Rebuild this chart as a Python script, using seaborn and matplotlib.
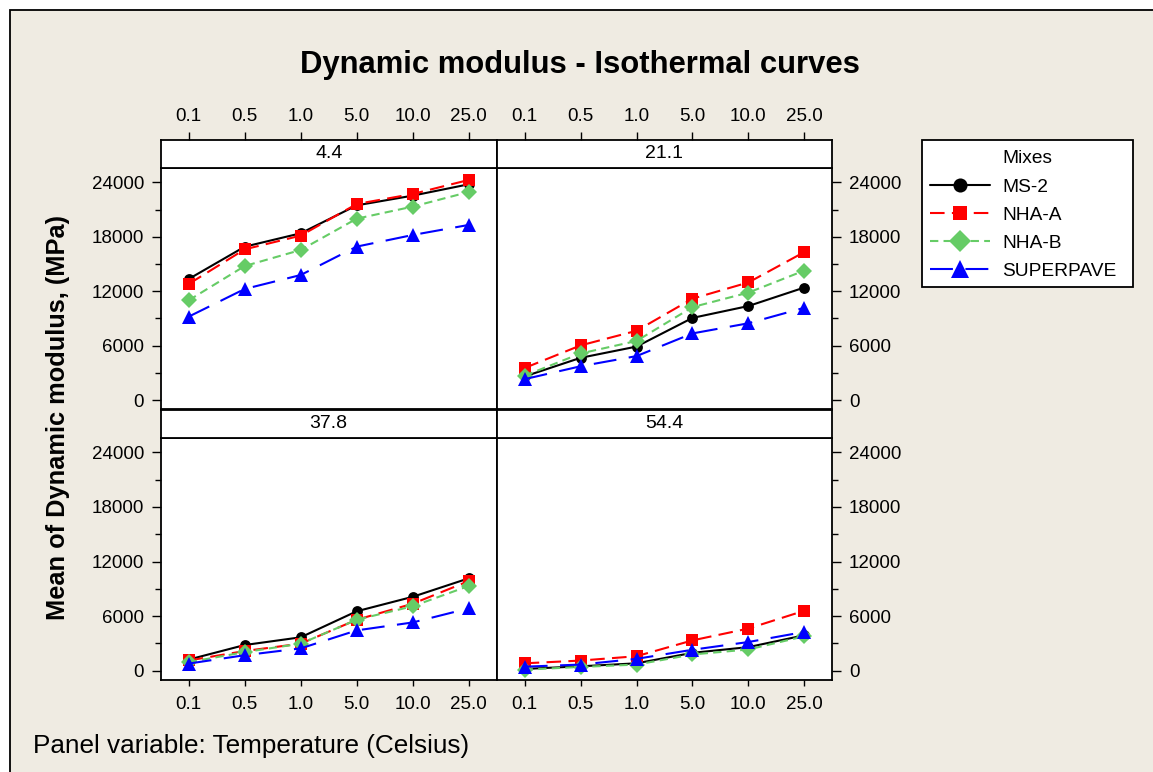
import numpy as np
import pandas as pd
import matplotlib
matplotlib.use("Agg")
import matplotlib.pyplot as plt
import seaborn as sns
from matplotlib.patches import Rectangle
from matplotlib.lines import Line2D
from matplotlib.ticker import MultipleLocator, FixedLocator

# ---------------- data ----------------
frequencies = ["0.1", "0.5", "1.0", "5.0", "10.0", "25.0"]
temperatures = ["4.4", "21.1", "37.8", "54.4"]
mixes = ["MS-2", "NHA-A", "NHA-B", "SUPERPAVE"]

# rows = temperatures (4.4, 21.1, 37.8, 54.4); columns = frequencies
ms2 = [
    [13340, 16900, 18380, 21460, 22530, 23780],
    [2600, 4650, 5890, 9050, 10360, 12400],
    [1220, 2820, 3670, 6530, 8120, 10150],
    [190, 480, 810, 1960, 2590, 3890],
]
nha_a = [
    [12790, 16610, 18120, 21610, 22710, 24260],
    [3530, 6020, 7630, 11170, 12960, 16310],
    [1120, 2160, 2970, 5600, 7360, 9850],
    [810, 1110, 1590, 3330, 4630, 6590],
]
nha_b = [
    [10990, 14770, 16540, 19990, 21320, 22930],
    [2680, 5130, 6510, 10240, 11840, 14270],
    [930, 2040, 2970, 5600, 7080, 9310],
    [110, 410, 670, 1780, 2330, 3780],
]
superpave = [
    [9190, 12240, 13780, 16910, 18190, 19300],
    [2300, 3720, 4840, 7340, 8460, 10170],
    [780, 1700, 2450, 4430, 5300, 6850],
    [440, 670, 1300, 2300, 3150, 4260],
]
y_ticks = [0, 6000, 12000, 18000, 24000]

series = {"MS-2": ms2, "NHA-A": nha_a, "NHA-B": nha_b, "SUPERPAVE": superpave}
rows = []
for mix in mixes:
    for ti, temp in enumerate(temperatures):
        for fi, f in enumerate(frequencies):
            rows.append({"Mix": mix, "Temperature": temp, "pos": fi,
                         "Frequency": f, "Modulus": series[mix][ti][fi]})
df = pd.DataFrame(rows)

# ---------------- styles ----------------
colors = {"MS-2": "#000000", "NHA-A": "#FF0000", "NHA-B": "#66CC66", "SUPERPAVE": "#0000FF"}
markers = {"MS-2": "o", "NHA-A": "s", "NHA-B": "D", "SUPERPAVE": "^"}
msizes = {"MS-2": 7.8, "NHA-A": 8, "NHA-B": 8.3, "SUPERPAVE": 10}
lstyles = {"MS-2": "-", "NHA-A": (0, (7, 3.5)), "NHA-B": (0, (4, 2.5)), "SUPERPAVE": (0, (11, 6))}

W, H = 1153, 772
BG = "#EFEBE2"
FONT = "Liberation Sans"
FS_TICK = 13.5

sns.set_theme(style="white")
plt.rcParams["font.family"] = [FONT, "DejaVu Sans"]
for k in ["text.color", "axes.labelcolor", "xtick.color", "ytick.color"]:
    plt.rcParams[k] = "black"

fig = plt.figure(figsize=(W / 100, H / 100), dpi=100)
fig.patch.set_facecolor("white")
fig.add_artist(Rectangle((10 / W, -0.05), 1.2, 1 - 10 / H + 0.05, transform=fig.transFigure,
                         facecolor=BG, edgecolor="black", linewidth=1.3, zorder=-10))


def rect(x0, y0, x1, y1):
    return [x0 / W, 1 - y1 / H, (x1 - x0) / W, (y1 - y0) / H]


cols_x = [(160.7, 496.7), (496.7, 832.3)]
strips_y = [(140, 167.7), (410, 437.7)]
plots_y = [(167.7, 409.3), (437.7, 680)]
XLIM = (-0.5, 5.5)
YLIM = (-1025, 25610)

handles = None
for ti, temp in enumerate(temperatures):
    r, c = divmod(ti, 2)
    x0, x1 = cols_x[c]
    sy0, sy1 = strips_y[r]
    py0, py1 = plots_y[r]

    ax = fig.add_axes(rect(x0, py0, x1, py1))
    ax.set_facecolor("white")
    sub = df[df["Temperature"] == temp]
    for mix in mixes:
        d = sub[sub["Mix"] == mix]
        sns.lineplot(data=d, x="pos", y="Modulus", ax=ax, color=colors[mix],
                     marker=markers[mix], markersize=msizes[mix], markeredgewidth=0,
                     linestyle=lstyles[mix], linewidth=1.5, label=mix, legend=False,
                     sort=False, errorbar=None)
    if handles is None:
        handles, labels = ax.get_legend_handles_labels()
    ax.set_xlim(*XLIM)
    ax.set_ylim(*YLIM)
    ax.set_xlabel("")
    ax.set_ylabel("")
    ax.yaxis.set_major_locator(FixedLocator(y_ticks))
    ax.yaxis.set_minor_locator(MultipleLocator(3000))
    ax.set_yticklabels([str(v) for v in y_ticks], fontsize=FS_TICK)
    ax.set_xticks(range(len(frequencies)))
    ax.set_xticklabels(frequencies, fontsize=FS_TICK)
    for sp in ax.spines.values():
        sp.set_color("black")
        sp.set_linewidth(1.3)
    left = (c == 0)
    ax.tick_params(axis="y", which="both", direction="out", color="black",
                   left=left, labelleft=left, right=not left, labelright=not left)
    ax.tick_params(axis="y", which="major", length=6.5, width=1, pad=5.5)
    ax.tick_params(axis="y", which="minor", length=4, width=1)
    bottom = (r == 1)
    ax.tick_params(axis="x", which="both", direction="out", color="black", length=4.5, width=1,
                   pad=7, bottom=bottom, labelbottom=bottom, top=False, labeltop=False)

    # strip
    st = fig.add_axes(rect(x0, sy0, x1, sy1))
    st.set_facecolor("white")
    st.set_xlim(*XLIM)
    st.set_ylim(0, 1)
    st.set_yticks([])
    st.text(2.5, 0.5, temp, ha="center", va="center", fontsize=14)
    for sp in st.spines.values():
        sp.set_color("black")
        sp.set_linewidth(1.3)
    st.set_xticks(range(len(frequencies)))
    if r == 0:
        st.set_xticklabels(frequencies, fontsize=FS_TICK)
        st.tick_params(axis="x", direction="out", color="black", length=5.5, width=1, pad=5,
                       top=True, labeltop=True, bottom=False, labelbottom=False)
    else:
        st.tick_params(axis="x", bottom=False, labelbottom=False, top=False, labeltop=False)

# legend: white box with the group title aligned with the entry labels
fig.add_artist(Rectangle((922 / W, 1 - 287 / H), (1133 - 922) / W, (287 - 140) / H,
                         transform=fig.transFigure, facecolor="white", edgecolor="black",
                         linewidth=1.3, zorder=5))
title_handle = Line2D([], [], color="none")
leg = fig.legend([title_handle] + handles, ["Mixes"] + labels, loc="upper left",
                 bbox_to_anchor=(930 / W, 1 - 150 / H), frameon=False,
                 fontsize=13.8, handlelength=3.15, borderpad=0, labelspacing=0.56,
                 handletextpad=0.6, borderaxespad=0, markerscale=1.3)
leg.set_zorder(6)

fig.text(580 / W, 1 - 65 / H, "Dynamic modulus - Isothermal curves", ha="center", va="center",
         fontsize=22.3, fontweight="bold")
fig.text(58 / W, 1 - 417 / H, "Mean of Dynamic modulus, (MPa)", ha="center", va="center",
         rotation=90, fontsize=18.3, fontweight="bold")
fig.text(33 / W, 1 - 746 / H, "Panel variable: Temperature (Celsius)", ha="left", va="center",
         fontsize=18.8)

fig.savefig("out.png", dpi=100, facecolor=fig.get_facecolor())
